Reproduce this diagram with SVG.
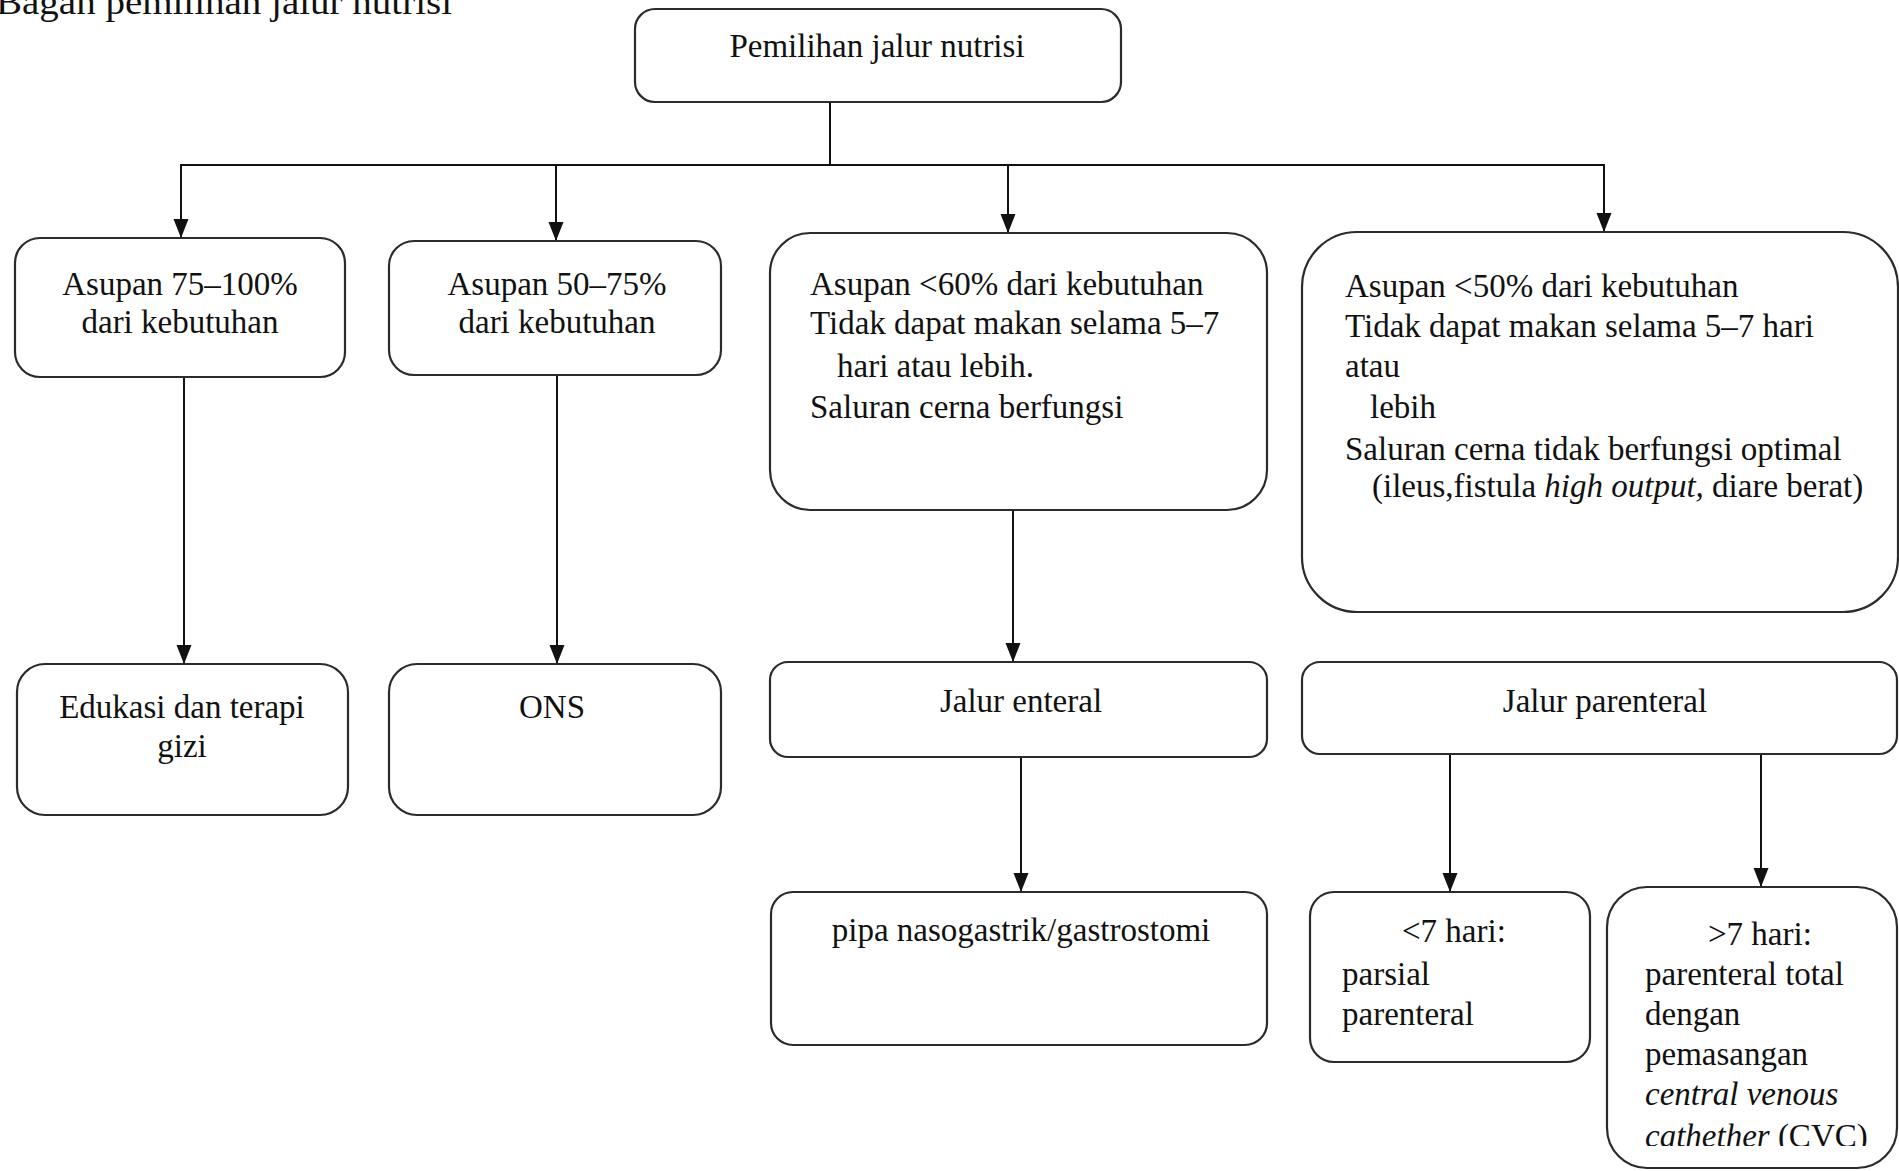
<svg xmlns="http://www.w3.org/2000/svg" width="1899" height="1171" viewBox="0 0 1899 1171">
<style>
.box{fill:#fff;stroke:#2b2b2b;stroke-width:2.2}
.t{font-family:"Liberation Serif","Times New Roman",serif;font-size:33px;fill:#111}
.c{text-anchor:middle}
.i{font-style:italic}
.conn{stroke:#111;stroke-width:2;fill:none}
</style>
<defs>
<marker id="arr" markerUnits="userSpaceOnUse" markerWidth="20" markerHeight="16" refX="19" refY="7.5" orient="auto">
<path d="M0,0 L19,7.5 L0,15 z" fill="#111"/>
</marker>
<clipPath id="clip11"><rect x="1600" y="880" width="299" height="266"/></clipPath>
</defs>
<rect width="1899" height="1171" fill="#fff"/>
<text class="t" x="-4" y="14" font-size="36" textLength="456" lengthAdjust="spacingAndGlyphs" style="font-size:36px">Bagan pemilihan jalur nutrisi</text>

<g id="connectors">
<path class="conn" d="M830,102 V165"/>
<path class="conn" d="M180,165 H1605"/>
<path class="conn" d="M181,165 V238" marker-end="url(#arr)"/>
<path class="conn" d="M556,165 V241" marker-end="url(#arr)"/>
<path class="conn" d="M1008,165 V233" marker-end="url(#arr)"/>
<path class="conn" d="M1604,165 V232" marker-end="url(#arr)"/>
<path class="conn" d="M184,378 V664" marker-end="url(#arr)"/>
<path class="conn" d="M557,376 V664" marker-end="url(#arr)"/>
<path class="conn" d="M1013,510 V662" marker-end="url(#arr)"/>
<path class="conn" d="M1021,757 V892" marker-end="url(#arr)"/>
<path class="conn" d="M1450,754 V892" marker-end="url(#arr)"/>
<path class="conn" d="M1761,754 V887" marker-end="url(#arr)"/>
</g>

<g id="n-root">
<rect class="box" x="635" y="9" width="486" height="93" rx="20"/>
<text class="t c" x="877" y="57">Pemilihan jalur nutrisi</text>
</g>

<g id="n-a1">
<rect class="box" x="15" y="238" width="330" height="139" rx="25"/>
<text class="t c" x="180" y="295">Asupan 75–100%</text>
<text class="t c" x="180" y="333">dari kebutuhan</text>
</g>

<g id="n-a2">
<rect class="box" x="389" y="241" width="332" height="134" rx="25"/>
<text class="t c" x="557" y="295">Asupan 50–75%</text>
<text class="t c" x="557" y="333">dari kebutuhan</text>
</g>

<g id="n-a3">
<rect class="box" x="770" y="233" width="497" height="277" rx="40"/>
<text class="t" x="810" y="295">Asupan &lt;60% dari kebutuhan</text>
<text class="t" x="810" y="334">Tidak dapat makan selama 5–7</text>
<text class="t" x="837" y="377">hari atau lebih.</text>
<text class="t" x="810" y="418">Saluran cerna berfungsi</text>
</g>

<g id="n-a4">
<rect class="box" x="1302" y="232" width="596" height="380" rx="55"/>
<text class="t" x="1345" y="297">Asupan &lt;50% dari kebutuhan</text>
<text class="t" x="1345" y="337">Tidak dapat makan selama 5–7 hari</text>
<text class="t" x="1345" y="377">atau</text>
<text class="t" x="1370" y="418">lebih</text>
<text class="t" x="1345" y="460">Saluran cerna tidak berfungsi optimal</text>
<text class="t" x="1372" y="497">(ileus,fistula <tspan class="i">high output,</tspan> diare berat)</text>
</g>

<g id="n-edukasi">
<rect class="box" x="17" y="664" width="331" height="151" rx="28"/>
<text class="t c" x="182" y="718">Edukasi dan terapi</text>
<text class="t c" x="182" y="757">gizi</text>
</g>

<g id="n-ons">
<rect class="box" x="389" y="664" width="332" height="151" rx="28"/>
<text class="t c" x="552" y="718">ONS</text>
</g>

<g id="n-enteral">
<rect class="box" x="770" y="662" width="497" height="95" rx="18"/>
<text class="t c" x="1021" y="712">Jalur enteral</text>
</g>

<g id="n-parenteral">
<rect class="box" x="1302" y="662" width="595" height="92" rx="18"/>
<text class="t c" x="1605" y="712">Jalur parenteral</text>
</g>

<g id="n-pipa">
<rect class="box" x="771" y="892" width="496" height="153" rx="22"/>
<text class="t c" x="1021" y="941">pipa nasogastrik/gastrostomi</text>
</g>

<g id="n-lt7">
<rect class="box" x="1310" y="892" width="280" height="170" rx="24"/>
<text class="t" x="1402" y="942">&lt;7 hari:</text>
<text class="t" x="1342" y="985">parsial</text>
<text class="t" x="1342" y="1025">parenteral</text>
</g>

<g id="n-gt7">
<rect class="box" x="1607" y="887" width="290" height="281" rx="40"/>
<g clip-path="url(#clip11)">
<text class="t" x="1708" y="945">&gt;7 hari:</text>
<text class="t" x="1645" y="985">parenteral total</text>
<text class="t" x="1645" y="1025">dengan</text>
<text class="t" x="1645" y="1065">pemasangan</text>
<text class="t i" x="1645" y="1105">central venous</text>
<text class="t" x="1645" y="1147"><tspan class="i">cathether</tspan> (CVC)</text>
</g>
</g>
</svg>
